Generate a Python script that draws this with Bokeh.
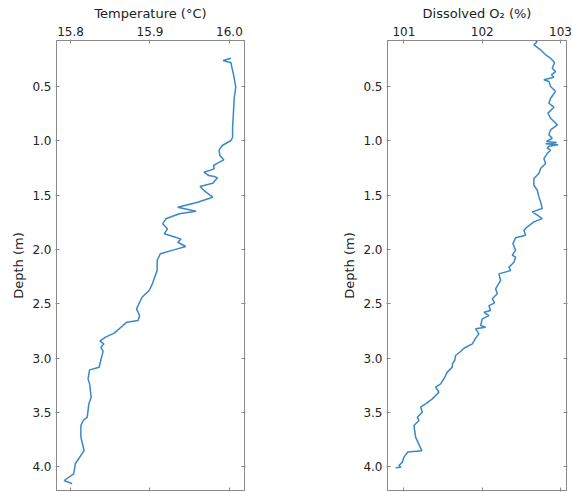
from bokeh.plotting import figure
from bokeh.layouts import row
from bokeh.models import Range1d, LinearAxis, FixedTicker, PrintfTickFormatter
from bokeh.embed import file_html
from bokeh.resources import INLINE

# ---- data ----
temp_depth = [0.24, 0.26, 0.28, 0.32, 0.383, 0.506, 0.61, 0.75, 0.875, 0.967, 0.997,
              1.043, 1.083, 1.135, 1.175, 1.206, 1.227, 1.258, 1.289, 1.32, 1.329, 1.341,
              1.39, 1.42, 1.464, 1.519, 1.565, 1.611, 1.648, 1.672, 1.718, 1.764, 1.81,
              1.856, 1.887, 1.906, 1.934, 1.973, 2.004, 2.04, 2.102, 2.194, 2.317, 2.378,
              2.44, 2.547, 2.609, 2.655, 2.67, 2.70, 2.771, 2.808, 2.845, 2.87, 2.90,
              2.937, 3.023, 3.085, 3.109, 3.192, 3.238, 3.361, 3.422, 3.545, 3.575,
              3.622, 3.729, 3.852, 3.974, 4.066, 4.128, 4.158]
temp_values = [16.002, 15.992, 16.002, 16.003, 16.005, 16.008, 16.006, 16.005, 16.004,
               16.004, 16.002, 15.991, 15.987, 15.988, 15.993, 15.985, 15.980, 15.981,
               15.968, 15.974, 15.981, 15.985, 15.979, 15.963, 15.969, 15.979, 15.960,
               15.935, 15.958, 15.937, 15.920, 15.916, 15.922, 15.918, 15.932, 15.939,
               15.935, 15.945, 15.930, 15.913, 15.909, 15.909, 15.903, 15.899, 15.890,
               15.883, 15.887, 15.885, 15.871, 15.866, 15.855, 15.844, 15.837, 15.842,
               15.838, 15.841, 15.838, 15.836, 15.824, 15.822, 15.824, 15.826, 15.823,
               15.821, 15.816, 15.813, 15.813, 15.817, 15.806, 15.804, 15.792, 15.802]

o2_depth = [0.076, 0.09, 0.116, 0.162, 0.208, 0.239, 0.279, 0.331, 0.362, 0.392, 0.414,
            0.438, 0.454, 0.50, 0.546, 0.608, 0.654, 0.69, 0.745, 0.792, 0.853, 0.899,
            0.945, 0.976, 1.005, 1.016, 1.026, 1.037, 1.05, 1.068, 1.086, 1.117, 1.163,
            1.209, 1.255, 1.301, 1.347, 1.409, 1.455, 1.516, 1.562, 1.623, 1.654, 1.685,
            1.716, 1.746, 1.792, 1.823, 1.869, 1.893, 1.946, 2.007, 2.053, 2.072, 2.118,
            2.164, 2.194, 2.225, 2.286, 2.363, 2.409, 2.455, 2.492, 2.517, 2.563, 2.578,
            2.609, 2.639, 2.701, 2.716, 2.731, 2.777, 2.817, 2.87, 2.91, 2.94, 2.977,
            3.02, 3.05, 3.084, 3.13, 3.191, 3.238, 3.268, 3.315, 3.376, 3.422, 3.453,
            3.499, 3.545, 3.576, 3.622, 3.729, 3.855, 3.865, 3.913, 3.959, 3.99, 4.005,
            4.011]
o2_values = [102.682, 102.70, 102.66, 102.746, 102.81, 102.873, 102.925, 102.895, 102.937,
             102.883, 102.916, 102.788, 102.852, 102.874, 102.937, 102.874, 102.852,
             102.916, 102.84, 102.874, 102.96, 102.874, 102.852, 102.895, 102.82, 102.95,
             102.81, 102.97, 102.85, 102.83, 102.874, 102.83, 102.788, 102.81, 102.746,
             102.724, 102.66, 102.66, 102.704, 102.724, 102.746, 102.767, 102.64, 102.704,
             102.767, 102.66, 102.576, 102.533, 102.554, 102.427, 102.392, 102.427,
             102.384, 102.427, 102.405, 102.341, 102.363, 102.213, 102.235, 102.171,
             102.193, 102.129, 102.158, 102.086, 102.107, 102.022, 102.086, 102.0,
             101.98, 102.043, 101.916, 101.958, 101.916, 101.874, 101.766, 101.724,
             101.66, 101.65, 101.62, 101.618, 101.554, 101.511, 101.469, 101.405,
             101.447, 101.363, 101.277, 101.213, 101.235, 101.171, 101.192, 101.128,
             101.149, 101.23, 101.05, 101.0, 100.98, 100.936, 100.958, 100.894]

temp_ticks = [15.8, 15.9, 16.0]
o2_ticks = [101, 102, 103]
depth_ticks = [0.5, 1.0, 1.5, 2.0, 2.5, 3.0, 3.5, 4.0]

LINE = "#3a88c8"
FRAME = "#8a8a8a"
TEXT = "#222222"
FONT = "DejaVu Sans"


def style_axis(ax, ticks, fmt, show_labels=True):
    ax.ticker = FixedTicker(ticks=ticks)
    ax.formatter = PrintfTickFormatter(format=fmt)
    ax.axis_line_color = FRAME
    ax.major_tick_line_color = FRAME
    ax.minor_tick_line_color = None
    ax.major_tick_in = 3
    ax.major_tick_out = 1
    ax.major_label_text_color = TEXT
    ax.major_label_text_font = FONT
    ax.major_label_text_font_size = "12px"
    ax.axis_label_text_font = FONT
    ax.axis_label_text_color = TEXT
    ax.axis_label_text_font_style = "normal"
    ax.axis_label_text_font_size = "13px"
    ax.major_label_standoff = 4
    ax.axis_label_standoff = 3
    if not show_labels:
        ax.major_label_overrides = {t: "" for t in ticks}
        ax.major_label_standoff = 0


def make(xs, ds, xr, xticks, xfmt, xlabel, width, mbl, mbr):
    p = figure(width=width, height=492, x_range=Range1d(*xr),
               y_range=Range1d(4.22, 0.076), x_axis_location="above",
               output_backend="svg", toolbar_location=None,
               min_border_left=mbl, min_border_right=mbr,
               min_border_top=40, min_border_bottom=2)
    p.line(xs, ds, line_color=LINE, line_width=1.5)
    p.xgrid.visible = False
    p.ygrid.visible = False
    p.outline_line_color = FRAME
    p.outline_line_width = 1
    p.background_fill_color = "white"
    p.border_fill_color = "white"
    p.xaxis.axis_label = xlabel
    p.yaxis.axis_label = "Depth (m)"
    style_axis(p.xaxis[0], xticks, xfmt)
    style_axis(p.yaxis[0], depth_ticks, "%.1f")
    bottom = LinearAxis()
    style_axis(bottom, xticks, xfmt, show_labels=False)
    p.add_layout(bottom, "below")
    right = LinearAxis()
    style_axis(right, depth_ticks, "%.1f", show_labels=False)
    p.add_layout(right, "right")
    return p


p1 = make(temp_values, temp_depth, (15.7823, 16.019), temp_ticks, "%.1f",
          "Temperature (°C)", 290, 56, 46)
p2 = make(o2_values, o2_depth, (100.79, 103.077), o2_ticks, "%d",
          "Dissolved O₂ (%)", 283, 97, 7)

layout = row(p1, p2)
open("out.html", "w").write(file_html(layout, INLINE))
